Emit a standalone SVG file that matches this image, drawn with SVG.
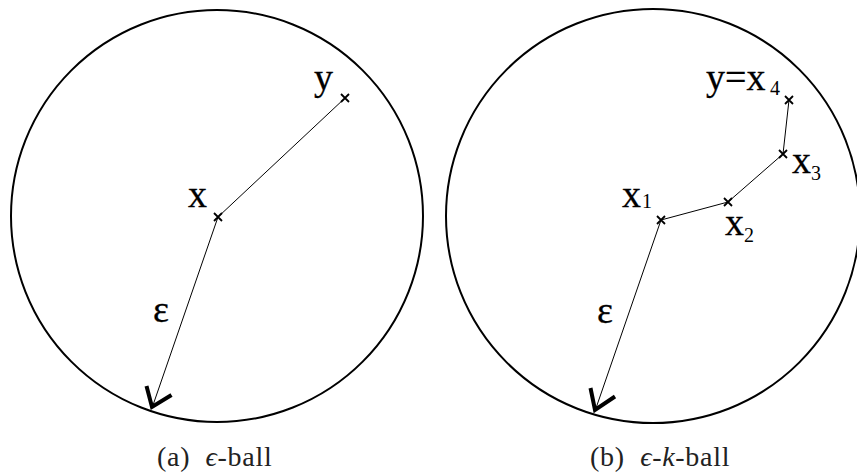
<svg xmlns="http://www.w3.org/2000/svg" width="857" height="473" viewBox="0 0 857 473">
<style>
.ball{fill:none;stroke:#000;stroke-width:2}
.seg{stroke:#000;stroke-width:1;fill:none}
.pt{stroke:#000;stroke-width:1.8;fill:none}
.head{stroke:#000;stroke-width:4;fill:none;stroke-linecap:butt;stroke-linejoin:miter}
.lbl{font-family:"Liberation Serif","Times New Roman",serif;font-size:38px;fill:#000;stroke:#000;stroke-width:0.3}
.sub{font-family:"Liberation Serif","Times New Roman",serif;font-size:20px;fill:#000}
.cap{font-family:"Liberation Serif","Times New Roman",serif;font-size:28px;fill:#222;letter-spacing:0.7px}
</style>
<defs>
<path id="cross" class="pt" d="M-4,-4 L4,4 M4,-4 L-4,4"/>
</defs>
<g id="ballA"><circle class="ball" cx="217" cy="216" r="206"/></g>
<g id="ballB"><circle class="ball" cx="653" cy="216" r="207"/></g>
<g id="connectors">
<line class="seg" x1="218" y1="217" x2="345" y2="98"/>
<line class="seg" x1="218" y1="217" x2="152" y2="408"/>
<path class="head" d="M146.5,386 L152,407 L171.5,395"/>
<polyline class="seg" points="661,220 728,202 783,154 789,100"/>
<line class="seg" x1="661" y1="220" x2="595" y2="411"/>
<path class="head" d="M590.5,388 L595,410 L615,396.5"/>
</g>
<g id="nodeA_x"><use href="#cross" x="218" y="217"/><text class="lbl" x="188" y="207">x</text></g>
<g id="nodeA_y"><use href="#cross" x="345" y="98"/><text class="lbl" x="314" y="90">y</text></g>
<g id="epsA"><text class="lbl" x="153" y="322">ε</text></g>
<g id="nodeB_x1"><use href="#cross" x="661" y="220"/><text class="lbl" x="622" y="207">x</text><text class="sub" x="642" y="208">1</text></g>
<g id="nodeB_x2"><use href="#cross" x="728" y="202"/><text class="lbl" x="725" y="235">x</text><text class="sub" x="744" y="242">2</text></g>
<g id="nodeB_x3"><use href="#cross" x="783" y="154"/><text class="lbl" x="792" y="173">x</text><text class="sub" x="811" y="180">3</text></g>
<g id="nodeB_x4"><use href="#cross" x="789" y="100"/><text class="lbl" x="706" y="90">y=x</text><text class="sub" x="770" y="95">4</text></g>
<g id="epsB"><text class="lbl" x="597" y="323">ε</text></g>
<g id="captions">
<text class="cap" x="157" y="466" xml:space="preserve">(a)  <tspan font-style="italic">ϵ</tspan>-ball</text>
<text class="cap" x="590" y="466" xml:space="preserve">(b)  <tspan font-style="italic">ϵ</tspan>-<tspan font-style="italic">k</tspan>-ball</text>
</g>
</svg>
